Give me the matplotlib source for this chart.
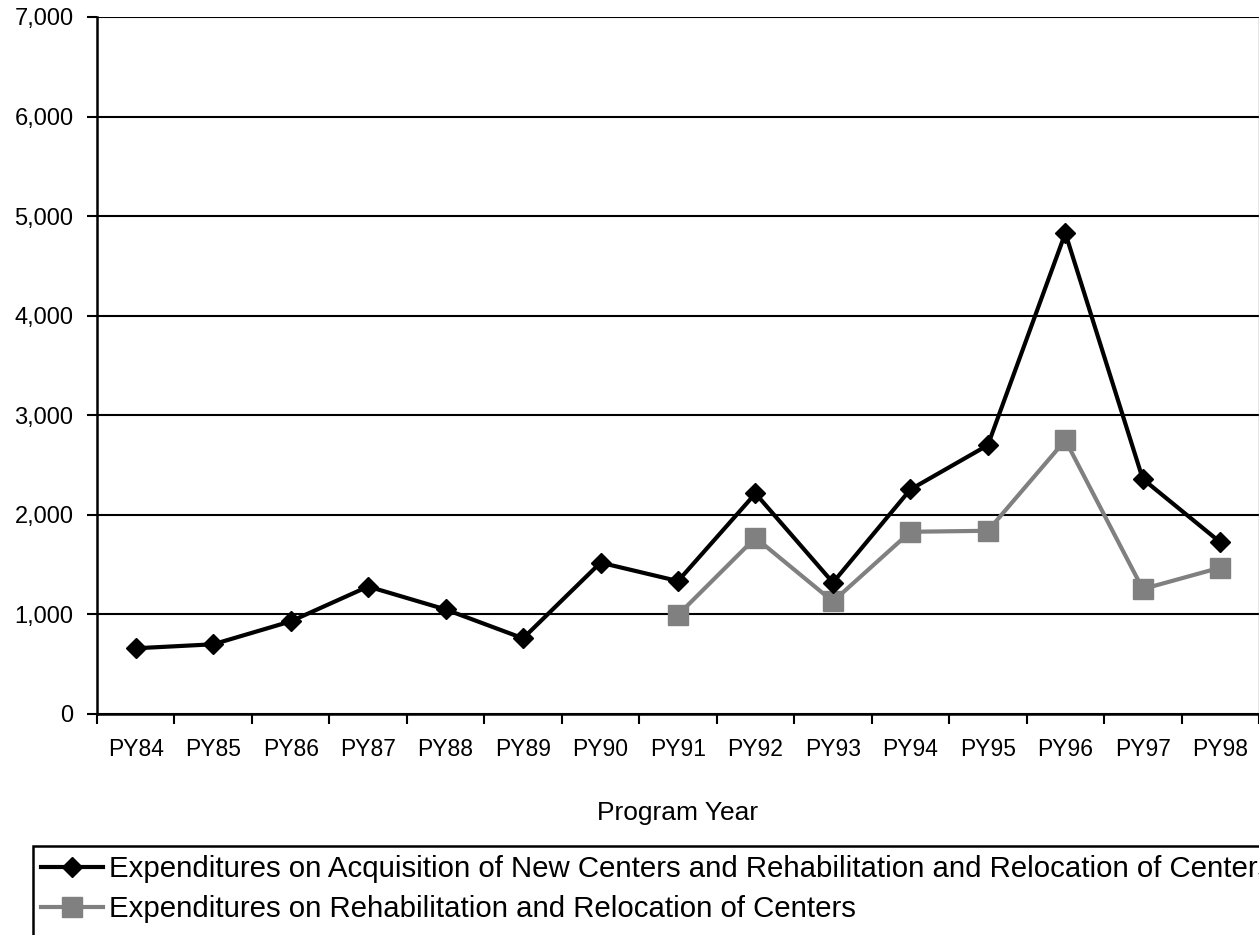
import matplotlib
matplotlib.use("Agg")
import matplotlib.pyplot as plt
from matplotlib.patches import Rectangle
from matplotlib.ticker import FuncFormatter, MultipleLocator
import numpy as np

plt.rcParams['font.family'] = ['Liberation Sans', 'DejaVu Sans']

# program years and expenditures
years = ['PY84', 'PY85', 'PY86', 'PY87', 'PY88', 'PY89', 'PY90', 'PY91',
         'PY92', 'PY93', 'PY94', 'PY95', 'PY96', 'PY97', 'PY98']
acq_and_rehab = [660, 700, 930, 1280, 1050, 760, 1520, 1335,
                 2215, 1320, 2255, 2700, 4830, 2360, 1725]
rehab_years = ['PY91', 'PY92', 'PY93', 'PY94', 'PY95', 'PY96', 'PY97', 'PY98']
rehab_only = [995, 1770, 1130, 1830, 1840, 2750, 1255, 1470]

label_1 = 'Expenditures on Acquisition of New Centers and Rehabilitation and Relocation of Centers'
label_2 = 'Expenditures on Rehabilitation and Relocation of Centers'

fig = plt.figure(figsize=(12.59, 9.35), dpi=100)
ax = fig.add_axes([97 / 1259, 1 - 714 / 935, 1 - 97 / 1259, (714 - 17) / 935])

x = np.arange(len(years))
x_rehab = [years.index(y) for y in rehab_years]

ax.plot(x, acq_and_rehab, color='black', lw=3, marker='D', ms=10.5,
        mfc='black', mec='black', label=label_1, zorder=4)
ax.plot(x_rehab, rehab_only, color='#808080', lw=3, marker='s', ms=14,
        mfc='#808080', mec='#808080', label=label_2, zorder=3)

ax.set_xlim(-0.5, len(years) - 0.5)
ax.set_ylim(0, 7000)
ax.yaxis.set_major_locator(MultipleLocator(1000))
ax.yaxis.set_major_formatter(FuncFormatter(lambda v, p: f'{int(v):,}'))
ax.grid(axis='y', color='black', lw=1.5)
ax.set_axisbelow(True)

# category labels centred, tick marks between categories
ax.set_xticks(x)
ax.set_xticklabels(years)
ax.set_xticks(np.arange(-0.5, len(years)), minor=True)
ax.tick_params(axis='x', which='major', length=0, pad=17, labelsize=16.5)
ax.tick_params(axis='x', which='minor', length=7, width=1.5, direction='out')
ax.tick_params(axis='y', length=7, width=1.5, pad=10, labelsize=17)

for side in ['left', 'bottom']:
    ax.spines[side].set_linewidth(1.8)
ax.spines['top'].set_visible(False)
ax.spines['right'].set_color('#808080')
ax.spines['right'].set_linewidth(1)

ax.set_xlabel('Program Year', fontsize=19, labelpad=29)

# legend box runs off the right and bottom edges, like the original
leg = fig.legend(loc='upper left', bbox_to_anchor=(32 / 1259, 1 - 846 / 935),
                 fontsize=21.2, frameon=False, borderaxespad=0,
                 handlelength=2.1, handletextpad=0.2, borderpad=0.3,
                 labelspacing=0.42)
fig.add_artist(Rectangle((33 / 1259, -0.05), 1.1, 0.05 + (935 - 846) / 935,
                         transform=fig.transFigure, fill=False,
                         edgecolor='black', lw=1.8))

fig.savefig('out.png', dpi=100)
